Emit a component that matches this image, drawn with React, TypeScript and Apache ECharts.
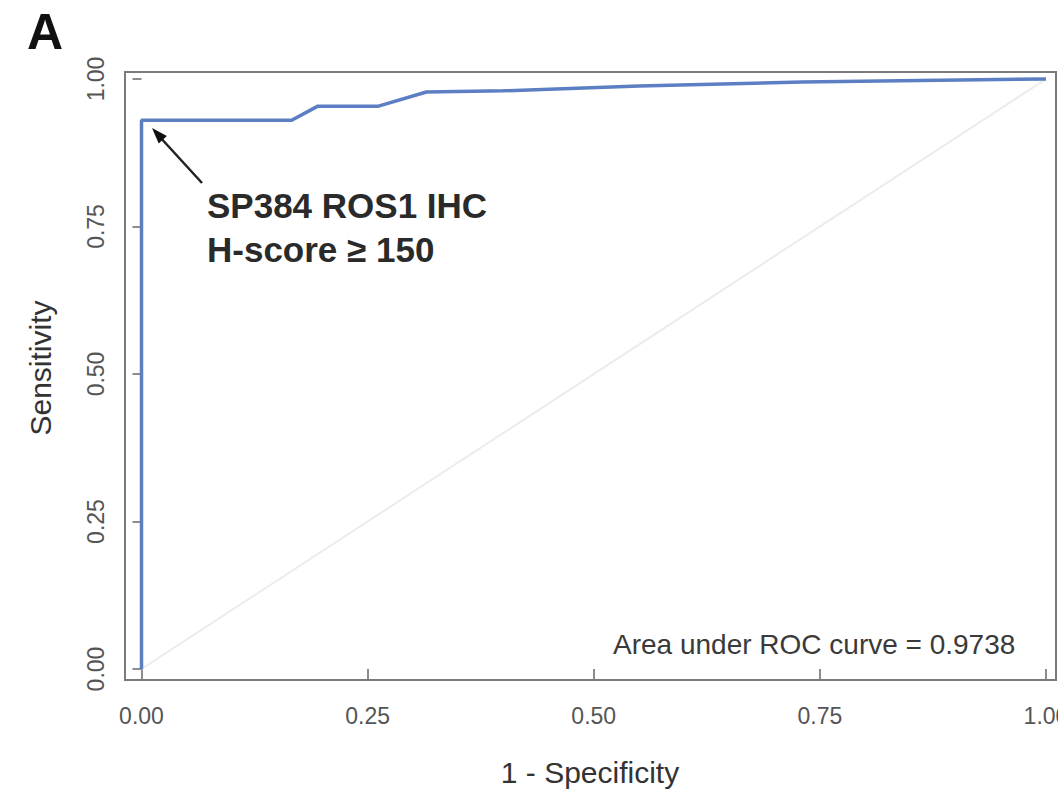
import React, { useEffect, useRef } from "react";
import * as echarts from "echarts";

const fpr = [0, 0, 0.166, 0.195, 0.262, 0.315, 0.4, 0.55, 0.73, 1];
const tpr = [0, 0.93, 0.93, 0.954, 0.954, 0.978, 0.98, 0.988, 0.995, 1];
const refLine = [
  [0, 0],
  [1, 1],
];
const tickValues = [0, 0.25, 0.5, 0.75, 1];
const aucText = "Area under ROC curve = 0.9738";
const annotLine1 = "SP384 ROS1 IHC";
const annotLine2 = "H-score ≥ 150";

const FONT = "'Liberation Sans', Arial, Helvetica, sans-serif";

export default function App() {
  const ref = useRef<HTMLDivElement>(null);
  useEffect(() => {
    if (!ref.current) return;
    const chart = echarts.init(ref.current, null, { renderer: "svg" });
    const roc = fpr.map((x, i) => [x, tpr[i]]);
    chart.setOption({
      animation: false,
      backgroundColor: "#ffffff",
      textStyle: { fontFamily: FONT },
      grid: {
        left: 125,
        top: 72,
        width: 931,
        height: 608,
        containLabel: false,
        outerBoundsMode: "none",
        show: true,
        borderColor: "#7a7a7a",
        borderWidth: 2,
        backgroundColor: "#ffffff",
      },
      xAxis: {
        type: "value",
        min: -0.01824,
        max: 1.01106,
        splitLine: { show: false },
        axisLine: { show: false },
        axisTick: {
          show: true,
          customValues: tickValues,
          length: 10,
          lineStyle: { color: "#666", width: 1.5 },
        },
        axisLabel: {
          customValues: tickValues,
          formatter: (v: number) => v.toFixed(2),
          fontSize: 23,
          color: "#555",
          margin: 24,
          hideOverlap: false,
          fontFamily: FONT,
        },
      },
      yAxis: {
        type: "value",
        min: -0.01864,
        max: 1.01186,
        splitLine: { show: false },
        axisLine: { show: false },
        axisTick: {
          show: true,
          customValues: tickValues,
          length: 9,
          lineStyle: { color: "#666", width: 1.5 },
        },
        axisLabel: {
          customValues: tickValues,
          formatter: (v: number) => v.toFixed(2),
          fontSize: 23,
          color: "#555",
          margin: 18,
          rotate: 90,
          fontFamily: FONT,
        },
      },
      series: [
        {
          type: "line",
          data: refLine,
          symbol: "none",
          lineStyle: { color: "#ececec", width: 2 },
          z: 1,
          silent: true,
        },
        {
          type: "line",
          data: roc,
          symbol: "none",
          lineStyle: { color: "#5b7fc2", width: 3.5 },
          z: 3,
          silent: true,
        },
      ],
      graphic: [
        {
          type: "text",
          x: 27,
          y: 31.5,
          style: {
            text: "A",
            font: `bold 50px ${FONT}`,
            fill: "#111",
            verticalAlign: "middle",
          },
        },
        {
          type: "text",
          x: 29,
          y: 812,
          style: {
            text: "B",
            font: `bold 50px ${FONT}`,
            fill: "#111",
            verticalAlign: "middle",
          },
        },
        {
          type: "line",
          shape: { x1: 202, y1: 183, x2: 159, y2: 136 },
          style: { stroke: "#222", lineWidth: 2.5 },
        },
        {
          type: "polygon",
          shape: {
            points: [
              [152, 128],
              [166.9, 136.1],
              [158.7, 143.5],
            ],
          },
          style: { fill: "#111" },
        },
        {
          type: "text",
          x: 207,
          y: 205.5,
          style: {
            text: annotLine1,
            font: `bold 35px ${FONT}`,
            fill: "#2a2a2a",
            verticalAlign: "middle",
          },
        },
        {
          type: "text",
          x: 207,
          y: 249.5,
          style: {
            text: annotLine2,
            font: `bold 35px ${FONT}`,
            fill: "#2a2a2a",
            verticalAlign: "middle",
          },
        },
        {
          type: "text",
          x: 613,
          y: 644,
          style: {
            text: aucText,
            font: `28px ${FONT}`,
            fill: "#3a3a3a",
            verticalAlign: "middle",
          },
        },
        {
          type: "text",
          x: 590,
          y: 772,
          style: {
            text: "1 - Specificity",
            font: `30px ${FONT}`,
            fill: "#333",
            align: "center",
            verticalAlign: "middle",
          },
        },
        {
          type: "text",
          x: 40,
          y: 368,
          rotation: Math.PI / 2,
          style: {
            text: "Sensitivity",
            font: `30px ${FONT}`,
            fill: "#333",
            align: "center",
            verticalAlign: "middle",
          },
        },
      ],
    });
    return () => chart.dispose();
  }, []);
  return (
    <div
      ref={ref}
      style={{ position: "fixed", left: 0, top: 0, width: 1058, height: 793 }}
    />
  );
}
